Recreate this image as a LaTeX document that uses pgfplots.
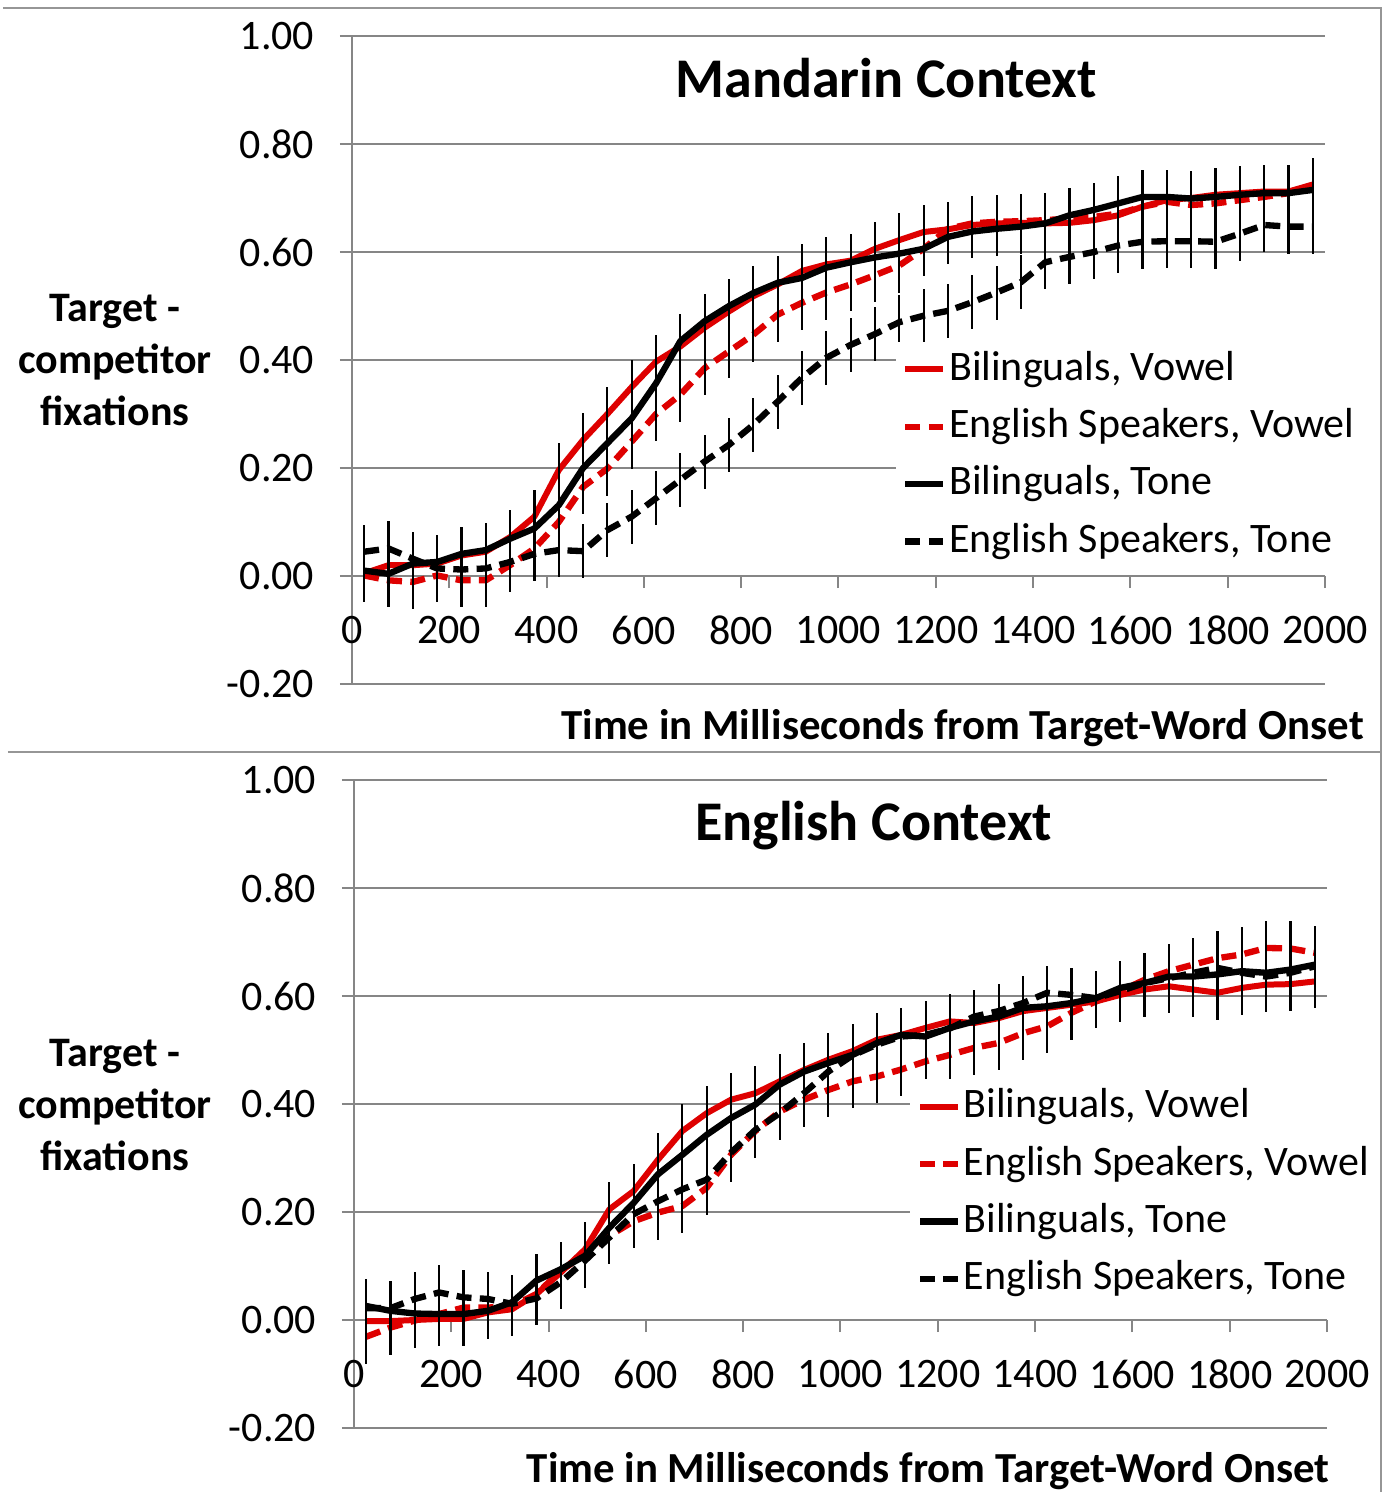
\documentclass[border=0pt]{standalone}
\usepackage{pgfplots}
\pgfplotsset{compat=1.18}
\usepackage{pgfplotstable}
\usepackage{fontspec}
\setmainfont{Carlito}
\definecolor{myred}{RGB}{222,0,0}
\definecolor{axiscol}{RGB}{134,134,134}
\definecolor{framecol}{RGB}{150,150,150}

\pgfplotstableread{
t rs rd bs bd
25 0.005 0.001 0.010 0.045
75 0.020 -0.008 0.004 0.051
125 0.020 -0.011 0.023 0.032
175 0.023 0.001 0.026 0.014
225 0.038 -0.008 0.041 0.012
275 0.045 -0.008 0.048 0.014
325 0.072 0.020 0.069 0.026
375 0.110 0.051 0.088 0.041
425 0.196 0.100 0.131 0.048
475 0.252 0.165 0.200 0.046
525 0.300 0.199 0.246 0.085
575 0.350 0.249 0.292 0.110
625 0.397 0.300 0.357 0.144
675 0.425 0.336 0.435 0.178
725 0.460 0.385 0.472 0.212
775 0.490 0.416 0.500 0.243
825 0.518 0.447 0.524 0.280
875 0.540 0.484 0.543 0.323
925 0.565 0.506 0.552 0.367
975 0.577 0.525 0.571 0.404
1025 0.584 0.540 0.581 0.428
1075 0.606 0.557 0.590 0.448
1125 0.622 0.575 0.597 0.470
1175 0.637 0.606 0.606 0.482
1225 0.642 0.643 0.628 0.491
1275 0.650 0.653 0.638 0.507
1325 0.653 0.656 0.643 0.525
1375 0.654 0.657 0.647 0.544
1425 0.653 0.659 0.653 0.581
1475 0.654 0.662 0.668 0.591
1525 0.659 0.665 0.678 0.600
1575 0.668 0.671 0.690 0.612
1625 0.684 0.684 0.702 0.619
1675 0.696 0.693 0.702 0.620
1725 0.700 0.687 0.699 0.620
1775 0.706 0.690 0.702 0.619
1825 0.709 0.696 0.706 0.634
1875 0.712 0.702 0.709 0.650
1925 0.712 0.709 0.709 0.647
1975 0.725 0.724 0.715 0.647
}\topdata

\pgfplotstableread{
t rs rd bs bd
25 -0.002 -0.031 0.026 0.022
75 -0.002 -0.014 0.017 0.022
125 0.000 -0.001 0.012 0.039
175 0.002 0.011 0.011 0.051
225 0.002 0.023 0.011 0.042
275 0.014 0.023 0.017 0.039
325 0.020 0.026 0.033 0.030
375 0.048 0.048 0.073 0.040
425 0.088 0.091 0.094 0.070
475 0.131 0.122 0.119 0.110
525 0.205 0.156 0.171 0.153
575 0.239 0.183 0.217 0.196
625 0.297 0.199 0.270 0.220
675 0.350 0.211 0.306 0.242
725 0.383 0.245 0.343 0.260
775 0.408 0.306 0.374 0.310
825 0.420 0.350 0.399 0.352
875 0.442 0.386 0.436 0.383
925 0.463 0.408 0.460 0.420
975 0.482 0.426 0.476 0.460
1025 0.498 0.442 0.491 0.490
1075 0.519 0.451 0.513 0.510
1125 0.528 0.464 0.528 0.525
1175 0.541 0.479 0.525 0.528
1225 0.553 0.491 0.541 0.540
1275 0.550 0.504 0.553 0.562
1325 0.559 0.513 0.562 0.572
1375 0.572 0.531 0.578 0.587
1425 0.578 0.544 0.581 0.606
1475 0.584 0.569 0.587 0.602
1525 0.590 0.590 0.596 0.596
1575 0.602 0.609 0.615 0.609
1625 0.612 0.630 0.624 0.624
1675 0.618 0.646 0.636 0.633
1725 0.612 0.658 0.636 0.643
1775 0.606 0.670 0.640 0.652
1825 0.615 0.677 0.646 0.643
1875 0.621 0.689 0.643 0.636
1925 0.622 0.688 0.649 0.643
1975 0.627 0.680 0.658 0.655
}\botdata

\pgfplotsset{
  common/.style={
    scale only axis, width=291.9pt, height=194.4pt,
    xmin=0, xmax=2000, ymin=-0.2, ymax=1,
    axis x line=middle, axis y line=left,
    axis line style={-, draw=axiscol, line width=0.6pt},
    xtick={0,200,400,600,800,1000,1200,1400,1600,1800,2000},
    ytick={-0.2,0,0.2,0.4,0.6,0.8,1},
    ymajorgrids, grid style={draw=axiscol, line width=0.6pt},
    tick style={draw=axiscol, line width=0.6pt},
    major tick length=3.6pt, tick align=outside,
    hide obscured x ticks=false, hide obscured y ticks=false,
    clip=false,
    /pgf/number format/assume math mode=true,
    tick label style={font=\fontsize{12.6pt}{15pt}\selectfont},
    xticklabel style={yshift=-4.8pt, /pgf/number format/set thousands separator={}},
    yticklabel style={xshift=-4.2pt, /pgf/number format/fixed, /pgf/number format/fixed zerofill, /pgf/number format/precision=2},
    legend cell align=left,
    legend style={draw=none, fill=white, font=\fontsize{12.6pt}{15pt}\selectfont,
      row sep=4.7pt, inner sep=2pt, column sep=0pt,
      nodes={inner xsep=0.8pt, inner ysep=0pt, text height=9.5pt, text depth=3pt}},
    legend image code/.code={\draw[#1] (0pt,0pt) -- (11.4pt,0pt);},
  },
  eb/.style={error bars/.cd, y dir=both, y fixed=0.05, error mark=none,
    error bar style={black, solid, line width=0.65pt}},
  rsol/.style={draw=myred, line width=1.8pt, solid, line join=round, no markers},
  rdas/.style={draw=myred, line width=1.9pt, dash pattern=on 4.5pt off 2.5pt, line join=round, no markers},
  bsol/.style={draw=black, line width=1.9pt, solid, line join=round, no markers},
  bdas/.style={draw=black, line width=1.9pt, dash pattern=on 4.5pt off 2.5pt, line join=round, no markers},
}

\begin{document}
\begin{tikzpicture}
\path[use as bounding box] (-105.6pt,-242.4pt) rectangle (311.4pt,205.2pt);
\begin{axis}[common, at={(0pt,0pt)}, anchor=south west,
  legend style={at={(0.558,0.529)}, anchor=north west}]
\addplot[rsol, eb] table[x=t, y=rs] {\topdata};
\addlegendentry{Bilinguals, Vowel}
\addplot[rdas, eb] table[x=t, y=rd] {\topdata};
\addlegendentry{English Speakers, Vowel}
\addplot[bsol, eb] table[x=t, y=bs] {\topdata};
\addlegendentry{Bilinguals, Tone}
\addplot[bdas, eb] table[x=t, y=bd] {\topdata};
\addlegendentry{English Speakers, Tone}
\node[font=\fontsize{16.8pt}{20pt}\selectfont\bfseries] at (rel axis cs:0.549,0.935) {Mandarin Context};
\node[anchor=east, font=\fontsize{12.85pt}{15pt}\selectfont\bfseries] at (rel axis cs:1.052,-0.068) {Time in Milliseconds from Target-Word Onset};
\node[align=center, font=\fontsize{12.6pt}{15.6pt}\selectfont\bfseries] at ([xshift=-71.1pt]rel axis cs:0,0.5) {Target -\\competitor\\fixations};
\end{axis}
\begin{axis}[common, at={(0.6pt,-223.2pt)}, anchor=south west,
  legend style={at={(0.571,0.539)}, anchor=north west}]
\addplot[rsol, eb] table[x=t, y=rs] {\botdata};
\addlegendentry{Bilinguals, Vowel}
\addplot[rdas, eb] table[x=t, y=rd] {\botdata};
\addlegendentry{English Speakers, Vowel}
\addplot[bsol, eb] table[x=t, y=bs] {\botdata};
\addlegendentry{Bilinguals, Tone}
\addplot[bdas, eb] table[x=t, y=bd] {\botdata};
\addlegendentry{English Speakers, Tone}
\node[font=\fontsize{16.8pt}{20pt}\selectfont\bfseries] at (rel axis cs:0.534,0.929) {English Context};
\node[anchor=east, font=\fontsize{12.85pt}{15pt}\selectfont\bfseries] at (rel axis cs:1.0145,-0.067) {Time in Milliseconds from Target-Word Onset};
\node[align=center, font=\fontsize{12.6pt}{15.6pt}\selectfont\bfseries] at ([xshift=-71.7pt]rel axis cs:0,0.498) {Target -\\competitor\\fixations};
\end{axis}
\draw[framecol, line width=0.6pt] (-104.7pt,202.8pt) -- (308.7pt,202.8pt) -- (308.7pt,-242.4pt);
\draw[framecol, line width=0.6pt] (-103.2pt,-20.4pt) -- (308.7pt,-20.4pt);
\end{tikzpicture}
\end{document}
